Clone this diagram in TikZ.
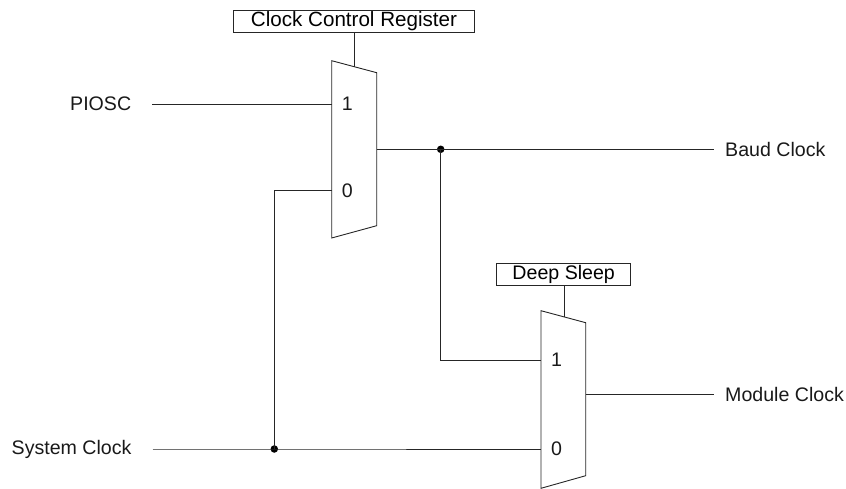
\documentclass[tikz,border=0pt]{standalone}
\usepackage{fontspec}
\setmainfont{Liberation Sans}
\begin{document}
\begin{tikzpicture}[x=1pt,y=-1pt,
  wire/.style={line width=0.9pt, draw=black!85},
  lbl/.style={font=\fontsize{19.6}{23}\selectfont, inner sep=0pt, text=black!90},
  regbox/.style={draw=black!85, line width=0.9pt, minimum height=21.6pt, inner sep=0pt, font=\fontsize{19.6}{23}\selectfont},
  muxshape/.style={draw=black!85, line width=0.9pt},
  jdot/.style={circle, fill=black, inner sep=0pt, minimum size=7.5pt}]
\useasboundingbox (0,0) rectangle (846,489);

% Mux 1 geometry
\coordinate (m1tl) at (331.7,60.7);
\coordinate (m1bl) at (331.7,238);
\coordinate (m1tr) at (376.7,72.7);
\coordinate (m1br) at (376.7,225.7);
\coordinate (m1in1) at (331.7,104);
\coordinate (m1in0) at (331.7,190.7);
\coordinate (m1out) at (376.7,149.3);
\coordinate (m1sel) at (354.3,66.7);
\draw[muxshape] (m1tl) -- (m1tr) -- (m1br) -- (m1bl) -- cycle;
\node[lbl] (m1one) at (347.2,104) {1};
\node[lbl] (m1zero) at (347.2,190.7) {0};

% Mux 2 geometry
\coordinate (m2tl) at (541,310.7);
\coordinate (m2bl) at (541,488.3);
\coordinate (m2tr) at (585.7,322.7);
\coordinate (m2br) at (585.7,475.7);
\coordinate (m2in1) at (541,360);
\coordinate (m2in0) at (541,449);
\coordinate (m2out) at (585.7,394);
\coordinate (m2sel) at (564,316.9);
\draw[muxshape] (m2tl) -- (m2tr) -- (m2br) -- (m2bl) -- cycle;
\node[lbl] (m2one) at (556.5,360) {1};
\node[lbl] (m2zero) at (556.5,449) {0};

% Control boxes
\node[regbox, minimum width=241.4pt, font=\fontsize{20.6}{24}\selectfont] (ccr) at (354,21.5) {Clock Control Register};
\node[regbox, minimum width=134pt] (ds) at (563.7,274.2) {Deep Sleep};
\draw[wire] (ccr.south -| m1sel) -- (m1sel);
\draw[wire] (ds.south -| m2sel) -- (m2sel);

% Signal labels
\node[lbl, anchor=west] (piosc) at (70,104) {PIOSC};
\node[lbl, anchor=west] (sys) at (11.5,449) {System Clock};
\node[lbl, anchor=west] (baud) at (725,149.3) {Baud Clock};
\node[lbl, anchor=west] (mod) at (725,394) {Module Clock};

% Junctions
\node[jdot] (j1) at (440.7,149.3) {};
\node[jdot] (j2) at (274.3,449) {};

% Wires
\draw[wire] ([xshift=21pt]piosc.east |- m1in1) -- (m1in1);
\draw[wire] (m1out) -- (j1.center) -- ([xshift=-11pt]baud.west |- m1out);
\draw[wire] (j1.center) |- (m2in1);
\draw[wire] ([xshift=21pt]sys.east |- m2in0) -- (j2.center) -- (m2in0);
\draw[wire] (j2.center) |- (m1in0);
\draw[wire] (m2out) -- ([xshift=-11pt]mod.west |- m2out);
\end{tikzpicture}
\end{document}
